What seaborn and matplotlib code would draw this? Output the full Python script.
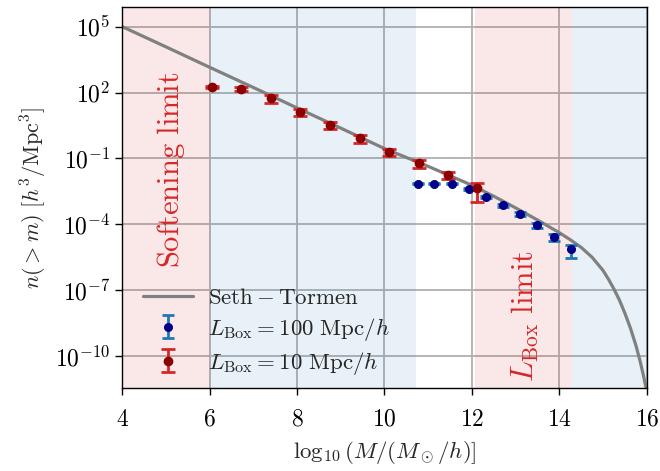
import numpy as np
import pandas as pd
import matplotlib
matplotlib.use("Agg")
import matplotlib.pyplot as plt
from matplotlib.ticker import NullLocator
import seaborn as sns

# Seth-Tormen cumulative mass function, log10 values
st_logm = [4.0, 5.0, 6.0, 7.0, 8.0, 9.0, 10.0, 11.0, 12.0, 12.5, 13.0, 13.5,
           14.0, 14.25, 14.5, 14.75, 15.0, 15.125, 15.25, 15.375, 15.5, 15.625,
           15.75, 15.85, 15.92, 16.0]
st_logn = [5.0, 4.08, 3.15, 2.23, 1.30, 0.38, -0.55, -1.36, -2.22, -2.72, -3.25, -3.80,
           -4.38, -4.70, -5.05, -5.5, -6.1, -6.5, -6.95, -7.45, -8.05, -8.72,
           -9.5, -10.25, -10.85, -11.6]

# L_Box = 100 Mpc/h simulation
box100_logm = [10.76, 11.14, 11.54, 11.93, 12.32, 12.72, 13.10, 13.48, 13.87, 14.26]
box100_logn = [-2.16, -2.16, -2.16, -2.39, -2.74, -3.12, -3.53, -4.03, -4.56, -5.13]
box100_relerr = [0.05, 0.05, 0.05, 0.08, 0.12, 0.16, 0.2, 0.25, 0.35, 0.6]

# L_Box = 10 Mpc/h simulation
box10_logm = [6.06, 6.73, 7.41, 8.08, 8.76, 9.43, 10.11, 10.78, 11.46, 12.12]
box10_logn = [2.24, 2.18, 1.74, 1.13, 0.53, -0.08, -0.69, -1.22, -1.75, -2.36]
box10_relerr = [0.1, 0.22, 0.38, 0.38, 0.38, 0.38, 0.38, 0.38, 0.35, 0.77]

# shaded regions
soft_span = (4.0, 6.0)
box10_span = (6.0, 10.72)
lbox_span = (12.08, 14.28)
box100_span = (14.28, 16.0)

sns.set_style("ticks")
plt.rcParams["mathtext.fontset"] = "cm"
plt.rcParams["font.family"] = ["DejaVu Serif"]

fig = plt.figure(figsize=(6.6, 4.71), dpi=100)
ax = fig.add_axes([0.185, 0.1756, 0.795, 0.809])

ax.axvspan(*soft_span, color="tab:red", alpha=0.1, lw=0)
ax.axvspan(*box10_span, color="tab:blue", alpha=0.1, lw=0)
ax.axvspan(*lbox_span, color="tab:red", alpha=0.1, lw=0)
ax.axvspan(*box100_span, color="tab:blue", alpha=0.1, lw=0)

ax.set_yscale("log")

st_df = pd.DataFrame({"logm": st_logm, "n": 10.0 ** np.array(st_logn)})
sns.lineplot(data=st_df, x="logm", y="n", ax=ax, color="gray", lw=2.3,
             sort=False, label=r"$\mathrm{Seth-Tormen}$", zorder=2)

n100 = 10.0 ** np.array(box100_logn)
ax.errorbar(box100_logm, n100, yerr=n100 * np.array(box100_relerr), fmt="o",
            color="darkblue", ecolor="tab:blue", ms=5.5, capsize=4,
            elinewidth=2, capthick=2, zorder=4,
            label=r"$L_\mathrm{Box}=100\ \mathrm{Mpc}/h$")
n10 = 10.0 ** np.array(box10_logn)
ax.errorbar(box10_logm, n10, yerr=n10 * np.array(box10_relerr), fmt="o",
            color="darkred", ecolor="tab:red", ms=6, capsize=5,
            elinewidth=2, capthick=2, zorder=4,
            label=r"$L_\mathrm{Box}=10\ \mathrm{Mpc}/h$")

ax.text(5.11, 10 ** -1.52, r"$\mathrm{Softening\ limit}$", rotation=90,
        ha="center", va="center", color="tab:red", fontsize=22)
ax.text(13.23, 10 ** -8.16, r"$L_\mathrm{Box}\ \mathrm{limit}$", rotation=90,
        ha="center", va="center", color="tab:red", fontsize=22)

ax.set_xlim(4, 16)
ax.set_ylim(10 ** -11.46, 10 ** 5.88)
ax.set_xticks([4, 6, 8, 10, 12, 14, 16])
ax.set_yticks([1e5, 1e2, 1e-1, 1e-4, 1e-7, 1e-10])
ax.yaxis.set_minor_locator(NullLocator())
ax.set_xticklabels([rf"${v}$" for v in [4, 6, 8, 10, 12, 14, 16]])
ax.set_yticklabels([r"$10^{5}$", r"$10^{2}$", r"$10^{-1}$", r"$10^{-4}$",
                    r"$10^{-7}$", r"$10^{-10}$"])
ax.tick_params(direction="out", length=5, width=1, labelsize=17, colors="black")
ax.tick_params(axis="x", pad=9)
ax.grid(True, color="#b0b0b0", lw=1.3)
for s in ax.spines.values():
    s.set_color("black")
    s.set_linewidth(1.0)

ax.set_xlabel(r"$\log_{10}(M/(M_\odot/h)]$", fontsize=16.5, labelpad=6)
ax.set_ylabel(r"$n(>m)\ [h^3/\mathrm{Mpc}^3]$", fontsize=16)

handles, labels = ax.get_legend_handles_labels()
order = [labels.index(l) for l in [r"$\mathrm{Seth-Tormen}$",
                                   r"$L_\mathrm{Box}=100\ \mathrm{Mpc}/h$",
                                   r"$L_\mathrm{Box}=10\ \mathrm{Mpc}/h$"]]
ax.legend([handles[i] for i in order], [labels[i] for i in order],
          loc="lower left", bbox_to_anchor=(0.0, -0.024), frameon=False,
          fontsize=16.5, handlelength=2.2, labelspacing=0.3, handletextpad=0.65)

fig.savefig("out.png", dpi=100)
